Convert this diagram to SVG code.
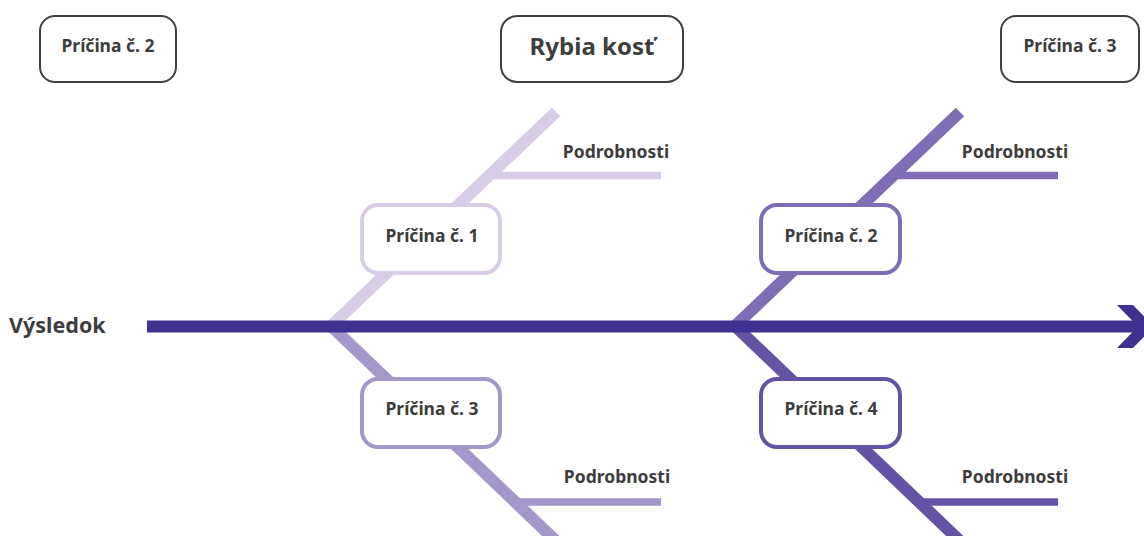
<svg xmlns="http://www.w3.org/2000/svg" width="1144" height="536" viewBox="0 0 1144 536">
<style>
.t{font-family:"Noto Sans","Open Sans","Liberation Sans",sans-serif;font-weight:700;fill:#3d3d3d;text-anchor:middle}
.lbl{font-size:17.5px}
.big{font-size:24px}
.res{font-size:21.5px;text-anchor:start}
.hdr{fill:#fff;stroke:#404040;stroke-width:2}
.cb{fill:#fff;stroke-width:4}
.bone{fill:none;stroke-width:12;stroke-linecap:butt}
.det{fill:none;stroke-width:7.5}
.c1{stroke:#d9cce6}
.c2{stroke:#7f6db5}
.c3{stroke:#a497c9}
.c4{stroke:#6453a5}
</style>
<rect width="1144" height="536" fill="#fff"/>
<g id="connectors">
  <line class="bone c1" x1="331" y1="326" x2="556" y2="112"/>
  <line class="det c1" x1="489" y1="175.5" x2="661" y2="175.5"/>
  <line class="bone c2" x1="735" y1="326" x2="960" y2="112"/>
  <line class="det c2" x1="893" y1="175.5" x2="1058" y2="175.5"/>
  <line class="bone c3" x1="331" y1="326" x2="556" y2="541"/>
  <line class="det c3" x1="515" y1="502" x2="661" y2="502"/>
  <line class="bone c4" x1="735" y1="326" x2="960" y2="541"/>
  <line class="det c4" x1="919" y1="502" x2="1058" y2="502"/>
  <line x1="147" y1="326.5" x2="1138" y2="326.5" stroke="#3f3190" stroke-width="12"/>
  <polygon points="1117,305 1133,305 1154,326.5 1133,348 1117,348 1138,326.5" fill="#3f3190"/>
</g>
<g id="title">
  <rect class="hdr" x="501" y="16" width="182" height="66" rx="16"/>
  <text class="t big" x="592" y="55">Rybia kosť</text>
</g>
<g id="header-cause2">
  <rect class="hdr" x="40" y="16" width="136" height="66" rx="15"/>
  <text class="t lbl" x="108" y="52">Príčina č. 2</text>
</g>
<g id="header-cause3">
  <rect class="hdr" x="1001" y="16" width="138" height="66" rx="15"/>
  <text class="t lbl" x="1070" y="52">Príčina č. 3</text>
</g>
<g id="result">
  <text class="t res" x="9" y="333">Výsledok</text>
</g>
<g id="cause1">
  <rect class="cb c1" x="362" y="205" width="138" height="68" rx="16"/>
  <text class="t lbl" x="432" y="242">Príčina č. 1</text>
</g>
<g id="cause2">
  <rect class="cb c2" x="761" y="205" width="139" height="68" rx="16"/>
  <text class="t lbl" x="831" y="242">Príčina č. 2</text>
</g>
<g id="cause3">
  <rect class="cb c3" x="362" y="379" width="138" height="68" rx="16"/>
  <text class="t lbl" x="432" y="415">Príčina č. 3</text>
</g>
<g id="cause4">
  <rect class="cb c4" x="761" y="379" width="139" height="68" rx="16"/>
  <text class="t lbl" x="831" y="415">Príčina č. 4</text>
</g>
<g id="detail1"><text class="t lbl" x="616" y="158">Podrobnosti</text></g>
<g id="detail2"><text class="t lbl" x="1015" y="158">Podrobnosti</text></g>
<g id="detail3"><text class="t lbl" x="617" y="483">Podrobnosti</text></g>
<g id="detail4"><text class="t lbl" x="1015" y="483">Podrobnosti</text></g>
</svg>
